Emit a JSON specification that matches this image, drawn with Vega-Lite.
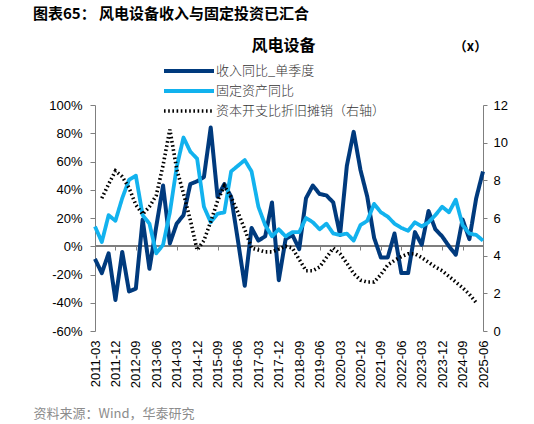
{
  "$schema": "https://vega.github.io/schema/vega-lite/v6.json",
  "autosize": {"type": "none"},
  "width": 388,
  "height": 226,
  "padding": {"left": 95, "top": 105, "right": 51, "bottom": 93},
  "background": "white",
  "title": {
    "text": "图表65：  风电设备收入与固定投资已汇合",
    "anchor": "start",
    "frame": "group",
    "dx": -62,
    "offset": 15,
    "font": "Noto Sans CJK SC",
    "fontSize": 15,
    "fontWeight": "bold",
    "color": "#000000"
  },
  "config": {
    "view": {"stroke": null},
    "axis": {
      "grid": false,
      "labelFont": "Liberation Sans",
      "labelFontSize": 13,
      "labelColor": "#000000",
      "domainColor": "#7f7f7f",
      "tickColor": "#7f7f7f",
      "labelOverlap": false
    }
  },
  "data": {
    "values": [
      {"q": "2011-03", "rev": -9, "fai": 14, "capex": null},
      {"q": "2011-06", "rev": -19, "fai": 3, "capex": 7.05},
      {"q": "2011-09", "rev": -5, "fai": 22, "capex": 7.8},
      {"q": "2011-12", "rev": -38, "fai": 18, "capex": 8.5},
      {"q": "2012-03", "rev": -4, "fai": 34, "capex": 8.2},
      {"q": "2012-06", "rev": -32, "fai": 47, "capex": 7.6},
      {"q": "2012-09", "rev": -30, "fai": 50, "capex": 6.7},
      {"q": "2012-12", "rev": 19, "fai": 22, "capex": 6.2},
      {"q": "2013-03", "rev": -16, "fai": 16, "capex": 6.6},
      {"q": "2013-06", "rev": 14, "fai": -5, "capex": 7.2},
      {"q": "2013-09", "rev": 43, "fai": 1, "capex": 8.8},
      {"q": "2013-12", "rev": 2, "fai": 24, "capex": 10.7},
      {"q": "2014-03", "rev": 16, "fai": 56, "capex": 8.6},
      {"q": "2014-06", "rev": 22, "fai": 77, "capex": 7.3},
      {"q": "2014-09", "rev": 44, "fai": 67, "capex": 5.9},
      {"q": "2014-12", "rev": 46, "fai": 62, "capex": 4.3},
      {"q": "2015-03", "rev": 49, "fai": 28, "capex": 4.8},
      {"q": "2015-06", "rev": 84, "fai": 17, "capex": 5.8},
      {"q": "2015-09", "rev": 35, "fai": 23, "capex": 6.9},
      {"q": "2015-12", "rev": 44, "fai": 24, "capex": 7.7},
      {"q": "2016-03", "rev": 35, "fai": 53, "capex": 7.1},
      {"q": "2016-06", "rev": 4, "fai": 57, "capex": 6.3},
      {"q": "2016-09", "rev": -28, "fai": 61, "capex": 5.4},
      {"q": "2016-12", "rev": 13, "fai": 53, "capex": 4.4},
      {"q": "2017-03", "rev": 4, "fai": 28, "capex": 4.3},
      {"q": "2017-06", "rev": 7, "fai": 15, "capex": 4.2},
      {"q": "2017-09", "rev": 31, "fai": 7, "capex": 4.2},
      {"q": "2017-12", "rev": -24, "fai": 12, "capex": 4.35},
      {"q": "2018-03", "rev": 5, "fai": 7, "capex": 4.5},
      {"q": "2018-06", "rev": 8, "fai": 10, "capex": 4.4},
      {"q": "2018-09", "rev": -2, "fai": 10, "capex": 3.8},
      {"q": "2018-12", "rev": 34, "fai": 20, "capex": 3.2},
      {"q": "2019-03", "rev": 43, "fai": 17, "capex": 3.2},
      {"q": "2019-06", "rev": 37, "fai": 12, "capex": 3.4},
      {"q": "2019-09", "rev": 36, "fai": 16, "capex": 3.9},
      {"q": "2019-12", "rev": 31, "fai": 9, "capex": 4.4},
      {"q": "2020-03", "rev": 8, "fai": 8, "capex": 4.1},
      {"q": "2020-06", "rev": 57, "fai": 9, "capex": 3.6},
      {"q": "2020-09", "rev": 81, "fai": 4, "capex": 3.05},
      {"q": "2020-12", "rev": 54, "fai": 15, "capex": 2.7},
      {"q": "2021-03", "rev": 35, "fai": 18, "capex": 2.6},
      {"q": "2021-06", "rev": 6, "fai": 30, "capex": 2.6},
      {"q": "2021-09", "rev": -8, "fai": 24, "capex": 3.0},
      {"q": "2021-12", "rev": -8, "fai": 21, "capex": 3.5},
      {"q": "2022-03", "rev": 9, "fai": 16, "capex": 3.75},
      {"q": "2022-06", "rev": -19, "fai": 13, "capex": 3.95},
      {"q": "2022-09", "rev": -19, "fai": 11, "capex": 4.1},
      {"q": "2022-12", "rev": 10, "fai": 17, "capex": 4.1},
      {"q": "2023-03", "rev": 1, "fai": 14, "capex": 3.9},
      {"q": "2023-06", "rev": 25, "fai": 17, "capex": 3.65},
      {"q": "2023-09", "rev": 12, "fai": 22, "capex": 3.4},
      {"q": "2023-12", "rev": 7, "fai": 28, "capex": 3.2},
      {"q": "2024-03", "rev": 0, "fai": 24, "capex": 2.9},
      {"q": "2024-06", "rev": -6, "fai": 33, "capex": 2.6},
      {"q": "2024-09", "rev": 19, "fai": 15, "capex": 2.3},
      {"q": "2024-12", "rev": 5, "fai": 9, "capex": 1.95},
      {"q": "2025-03", "rev": 34, "fai": 8, "capex": 1.5},
      {"q": "2025-06", "rev": 53, "fai": 4, "capex": null}
    ]
  },
  "transform": [
    {"fold": ["rev", "fai", "capex"], "as": ["series", "value"]},
    {"filter": "datum.value != null"}
  ],
  "layer": [
    {
      "layer": [
        {
          "mark": {"type": "rule", "color": "#7f7f7f", "strokeWidth": 1},
          "encoding": {
            "y": {
              "datum": 0, "type": "quantitative",
              "scale": {"domain": [-60, 100], "nice": false, "zero": false},
              "axis": {"orient": "left", "values": [-60, -40, -20, 0, 20, 40, 60, 80, 100], "labelExpr": "datum.value + '%'", "labelOverlap": false, "labelBound": false, "tickSize": 5, "labelPadding": 8, "title": null}
            }
          }
        },
        {
          "transform": [{"filter": "datum.series === 'rev'"}],
          "mark": {"type": "line", "strokeJoin": "round"},
          "encoding": {
            "x": {
              "field": "q", "type": "ordinal",
              "scale": {"type": "point", "padding": 0, "domain": ["2011-03","2011-06","2011-09","2011-12","2012-03","2012-06","2012-09","2012-12","2013-03","2013-06","2013-09","2013-12","2014-03","2014-06","2014-09","2014-12","2015-03","2015-06","2015-09","2015-12","2016-03","2016-06","2016-09","2016-12","2017-03","2017-06","2017-09","2017-12","2018-03","2018-06","2018-09","2018-12","2019-03","2019-06","2019-09","2019-12","2020-03","2020-06","2020-09","2020-12","2021-03","2021-06","2021-09","2021-12","2022-03","2022-06","2022-09","2022-12","2023-03","2023-06","2023-09","2023-12","2024-03","2024-06","2024-09","2024-12","2025-03","2025-06"]},
              "axis": {
                "orient": "bottom",
                "offset": -85,
                "values": ["2011-03","2011-12","2012-09","2013-06","2014-03","2014-12","2015-09","2016-06","2017-03","2017-12","2018-09","2019-06","2020-03","2020-12","2021-09","2022-06","2023-03","2023-12","2024-09","2025-06"],
                "labels": false,
                "ticks": true,
                "tickSize": 4,
                "domain": true,
                "title": "风电设备",
                "titleX": 188,
                "titleY": -196,
                "titleAlign": "center",
                "titleBaseline": "alphabetic",
                "titleFont": "Noto Sans CJK SC",
                "titleFontSize": 16,
                "titleFontWeight": "bold",
                "titleColor": "#000000"
              }
            },
            "y": {
              "field": "value", "type": "quantitative",
              "scale": {"domain": [-60, 100], "nice": false, "zero": false},
              "axis": {"orient": "left", "values": [-60, -40, -20, 0, 20, 40, 60, 80, 100], "labelExpr": "datum.value + '%'", "labelOverlap": false, "labelBound": false, "tickSize": 5, "labelPadding": 8, "title": null}
            },
            "color": {"field": "series", "type": "nominal", "scale": {"domain": ["rev", "fai", "capex"], "range": ["#003A7D", "#12B2EE", "#000000"]}, "legend": {"orient": "none", "legendX": 83, "legendY": -45, "title": null, "symbolType": "M-2.78,0H2.78", "symbolSize": 324, "labelOffset": 16, "labelFont": "Noto Sans CJK SC", "labelFontSize": 13, "labelFontWeight": 300, "labelColor": "#333333", "labelLimit": 300, "rowPadding": 1, "padding": 0, "labelExpr": "datum.label == 'rev' ? '收入同比_单季度' : datum.label == 'fai' ? '固定资产同比' : '资本开支比折旧摊销（右轴）'"}},
            "strokeDash": {"field": "series", "type": "nominal", "scale": {"domain": ["rev", "fai", "capex"], "range": [[1, 0], [1, 0], [1.6, 2.6]]}, "legend": {"orient": "none", "legendX": 83, "legendY": -45, "title": null, "symbolType": "M-2.78,0H2.78", "symbolSize": 324, "labelOffset": 16, "labelFont": "Noto Sans CJK SC", "labelFontSize": 13, "labelFontWeight": 300, "labelColor": "#333333", "labelLimit": 300, "rowPadding": 1, "padding": 0, "labelExpr": "datum.label == 'rev' ? '收入同比_单季度' : datum.label == 'fai' ? '固定资产同比' : '资本开支比折旧摊销（右轴）'"}},
            "strokeWidth": {"field": "series", "type": "nominal", "scale": {"domain": ["rev", "fai", "capex"], "range": [4, 3.6, 1.9]}, "legend": {"orient": "none", "legendX": 83, "legendY": -45, "title": null, "symbolType": "M-2.78,0H2.78", "symbolSize": 324, "labelOffset": 16, "labelFont": "Noto Sans CJK SC", "labelFontSize": 13, "labelFontWeight": 300, "labelColor": "#333333", "labelLimit": 300, "rowPadding": 1, "padding": 0, "labelExpr": "datum.label == 'rev' ? '收入同比_单季度' : datum.label == 'fai' ? '固定资产同比' : '资本开支比折旧摊销（右轴）'"}}
          }
        },
        {
          "transform": [{"filter": "datum.series === 'fai'"}],
          "mark": {"type": "line", "strokeJoin": "round"},
          "encoding": {
            "x": {
              "field": "q", "type": "ordinal",
              "scale": {"type": "point", "padding": 0, "domain": ["2011-03","2011-06","2011-09","2011-12","2012-03","2012-06","2012-09","2012-12","2013-03","2013-06","2013-09","2013-12","2014-03","2014-06","2014-09","2014-12","2015-03","2015-06","2015-09","2015-12","2016-03","2016-06","2016-09","2016-12","2017-03","2017-06","2017-09","2017-12","2018-03","2018-06","2018-09","2018-12","2019-03","2019-06","2019-09","2019-12","2020-03","2020-06","2020-09","2020-12","2021-03","2021-06","2021-09","2021-12","2022-03","2022-06","2022-09","2022-12","2023-03","2023-06","2023-09","2023-12","2024-03","2024-06","2024-09","2024-12","2025-03","2025-06"]},
              "axis": {
                "orient": "bottom",
                "offset": -85,
                "values": ["2011-03","2011-12","2012-09","2013-06","2014-03","2014-12","2015-09","2016-06","2017-03","2017-12","2018-09","2019-06","2020-03","2020-12","2021-09","2022-06","2023-03","2023-12","2024-09","2025-06"],
                "labels": false,
                "ticks": true,
                "tickSize": 4,
                "domain": true,
                "title": "风电设备",
                "titleX": 188,
                "titleY": -196,
                "titleAlign": "center",
                "titleBaseline": "alphabetic",
                "titleFont": "Noto Sans CJK SC",
                "titleFontSize": 16,
                "titleFontWeight": "bold",
                "titleColor": "#000000"
              }
            },
            "y": {
              "field": "value", "type": "quantitative",
              "scale": {"domain": [-60, 100], "nice": false, "zero": false},
              "axis": {"orient": "left", "values": [-60, -40, -20, 0, 20, 40, 60, 80, 100], "labelExpr": "datum.value + '%'", "labelOverlap": false, "labelBound": false, "tickSize": 5, "labelPadding": 8, "title": null}
            },
            "color": {"field": "series", "type": "nominal", "scale": {"domain": ["rev", "fai", "capex"], "range": ["#003A7D", "#12B2EE", "#000000"]}},
            "strokeDash": {"field": "series", "type": "nominal", "scale": {"domain": ["rev", "fai", "capex"], "range": [[1, 0], [1, 0], [1.6, 2.6]]}},
            "strokeWidth": {"field": "series", "type": "nominal", "scale": {"domain": ["rev", "fai", "capex"], "range": [4, 3.6, 1.9]}}
          }
        }
      ]
    },
    {
      "transform": [{"filter": "datum.series === 'capex'"}],
      "mark": {"type": "line"},
      "encoding": {
        "x": {
          "field": "q", "type": "ordinal",
          "scale": {"type": "point", "padding": 0, "domain": ["2011-03","2011-06","2011-09","2011-12","2012-03","2012-06","2012-09","2012-12","2013-03","2013-06","2013-09","2013-12","2014-03","2014-06","2014-09","2014-12","2015-03","2015-06","2015-09","2015-12","2016-03","2016-06","2016-09","2016-12","2017-03","2017-06","2017-09","2017-12","2018-03","2018-06","2018-09","2018-12","2019-03","2019-06","2019-09","2019-12","2020-03","2020-06","2020-09","2020-12","2021-03","2021-06","2021-09","2021-12","2022-03","2022-06","2022-09","2022-12","2023-03","2023-06","2023-09","2023-12","2024-03","2024-06","2024-09","2024-12","2025-03","2025-06"]},
          "axis": {
            "orient": "bottom",
            "values": ["2011-03","2011-12","2012-09","2013-06","2014-03","2014-12","2015-09","2016-06","2017-03","2017-12","2018-09","2019-06","2020-03","2020-12","2021-09","2022-06","2023-03","2023-12","2024-09","2025-06"],
            "labelAngle": -90,
            "domain": false,
            "ticks": false,
            "labelPadding": 9,
            "title": "资料来源：Wind，华泰研究",
            "titleX": -62,
            "titleY": 86,
            "titleAlign": "left",
            "titleBaseline": "alphabetic",
            "titleFont": "Noto Sans CJK SC",
            "titleFontSize": 13,
            "titleFontWeight": "normal",
            "titleColor": "#8c8c8c"
          }
        },
        "y": {
          "field": "value", "type": "quantitative",
          "scale": {"domain": [0, 12], "nice": false},
          "axis": {
            "orient": "right",
            "values": [0, 2, 4, 6, 8, 10, 12],
            "tickSize": 4,
            "labelPadding": 6,
            "title": "（x）",
            "titleAngle": 0,
            "titleX": -13,
            "titleY": -55,
            "titleAlign": "center",
            "titleBaseline": "alphabetic",
            "titleFont": "Noto Sans CJK SC",
            "titleFontSize": 13,
            "titleFontWeight": "bold",
            "titleColor": "#000000"
          }
        },
        "color": {"field": "series", "type": "nominal", "scale": {"domain": ["rev", "fai", "capex"], "range": ["#003A7D", "#12B2EE", "#000000"]}},
        "strokeDash": {"field": "series", "type": "nominal", "scale": {"domain": ["rev", "fai", "capex"], "range": [[1, 0], [1, 0], [1.6, 2.6]]}},
        "strokeWidth": {"field": "series", "type": "nominal", "scale": {"domain": ["rev", "fai", "capex"], "range": [4, 3.6, 1.9]}}
      }
    }
  ],
  "resolve": {"scale": {"y": "independent"}, "axis": {"x": "independent"}}
}
